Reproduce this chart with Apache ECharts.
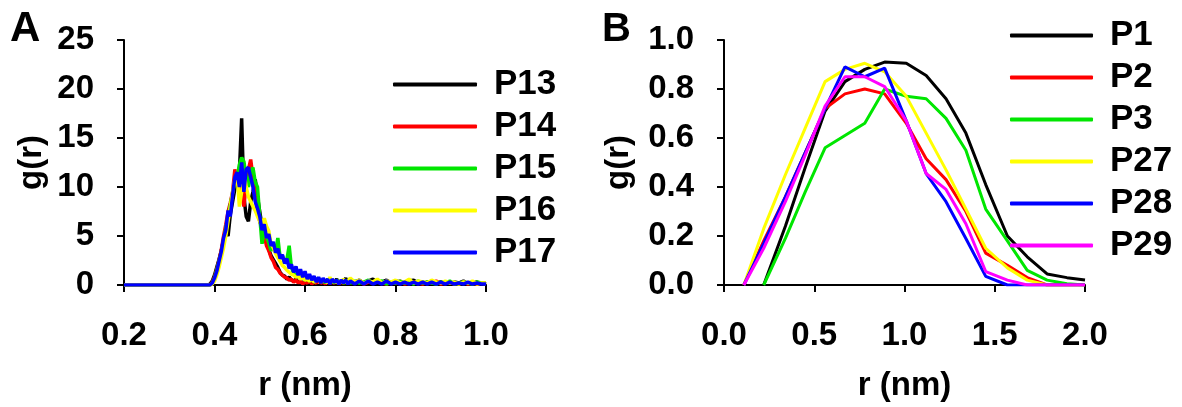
<!DOCTYPE html>
<html>
<head>
<meta charset="utf-8">
<script src="https://cdn.jsdelivr.net/npm/echarts@6/dist/echarts.min.js"></script>
<style>
html,body{margin:0;padding:0;background:#fff;}
#c{width:1182px;height:407px;}
</style>
</head>
<body>
<div id="c"></div>
<script>
// ---------- Panel A data ----------
const xA = [0.2,
  0.38,0.385,0.39,0.395,0.40,0.405,0.41,0.415,0.42,0.425,
  0.43,0.435,0.44,0.445,0.45,0.455,0.46,0.465,0.47,0.475,
  0.48,0.485,0.49,0.495,0.50,0.505,0.51,0.515,0.52,0.525,
  0.53,0.535,0.54,0.545,0.55,0.555,0.56,0.565,0.57,0.575,
  0.58,0.585,0.59,0.595,0.60,0.605,0.61,0.615,0.62,0.625,
  0.63,0.635,0.64,0.645,0.65,0.655,0.66,0.665,0.67,0.675,
  0.68,0.685,0.69,0.695,0.70,
  0.71,0.72,0.73,0.74,0.75,0.76,0.77,0.78,0.79,0.80,
  0.81,0.82,0.83,0.84,0.85,0.86,0.87,0.88,0.89,0.90,
  0.91,0.92,0.93,0.94,0.95,0.96,0.97,0.98,0.99,1.00];
const P13 = [0,
  0,0,0.1,0.4,1.0,1.8,2.6,3.5,4.6,5.6,
  5.0,7.2,8.5,9.8,10.8,11.5,17.0,9.0,7.0,6.5,
  8.5,9.5,10.8,9.0,7.5,6.0,5.0,4.6,3.6,3.0,
  2.6,2.2,1.8,1.3,1.0,0.9,0.6,0.8,0.5,0.4,
  0.6,0.3,0.4,0.2,0.3,0.5,0.2,0.4,0.6,0.3,
  0.5,0.2,0.4,0.3,0.5,0.2,0.4,0.3,0.6,0.2,
  0.4,0.3,0.7,0.2,0.4,
  0.3,0.5,0.2,0.4,0.6,0.2,0.3,0.5,0.2,0.4,
  0.3,0.2,0.4,0.5,0.2,0.3,0.1,0.4,0.2,0.3,
  0.2,0.1,0.3,0.2,0.4,0.1,0.2,0.3,0.1,0.2];
const P14 = [0,
  0,0,0,0.3,0.8,1.6,2.5,3.6,5.0,6.2,
  7.5,8.4,9.5,11.8,10.2,12.0,9.5,8.0,10.5,11.8,
  12.8,11.0,9.0,7.5,6.5,5.8,5.0,4.0,3.5,2.8,
  2.4,1.8,1.6,1.2,1.0,0.8,0.7,0.5,0.6,0.3,
  0.5,0.2,0.4,0.1,0.3,0.2,0.4,0.1,0.3,0.2,
  0.4,0.2,0.3,0.1,0.4,0.2,0.3,0.2,0.4,0.1,
  0.3,0.2,0.4,0.2,0.3,
  0.2,0.4,0.1,0.3,0.2,0.4,0.2,0.1,0.3,0.2,
  0.4,0.1,0.2,0.3,0.2,0.1,0.3,0.2,0.4,0.1,
  0.2,0.3,0.1,0.2,0.3,0.1,0.2,0.1,0.2,0.1];
const P15 = [0,
  0,0,0,0.2,0.7,1.5,2.4,3.3,4.5,5.8,
  7.0,8.2,9.4,10.5,11.0,12.3,13.0,12.6,11.0,10.0,
  11.5,12.0,10.5,10.0,7.0,4.2,5.6,5.0,4.3,3.5,
  4.0,3.4,4.8,2.8,3.0,2.2,2.6,4.0,1.8,1.2,
  0.9,1.0,0.7,0.8,0.5,0.7,0.4,0.6,0.3,0.5,
  0.7,0.3,0.5,0.2,0.6,0.3,0.4,0.2,0.5,0.3,
  0.4,0.2,0.3,0.5,0.2,
  0.4,0.2,0.3,0.5,0.2,0.3,0.4,0.1,0.3,0.2,
  0.4,0.2,0.3,0.1,0.4,0.2,0.3,0.2,0.1,0.3,
  0.2,0.4,0.1,0.2,0.3,0.2,0.1,0.3,0.2,0.1];
const P16 = [0,
  0,0,0,0.1,0.4,1.0,1.8,2.8,3.8,5.0,
  6.5,8.0,9.5,10.8,11.2,8.0,9.5,11.5,10.0,9.0,
  8.5,8.0,7.6,7.0,6.5,6.2,6.8,6.0,5.5,4.2,
  3.8,3.2,2.8,2.4,2.0,1.8,1.5,1.3,1.1,1.0,
  0.8,0.9,0.6,0.8,0.5,0.6,0.4,0.7,0.3,0.5,
  0.6,0.3,0.5,0.4,0.2,0.8,0.3,0.5,0.2,0.4,
  0.3,0.6,0.2,0.4,0.7,
  0.3,0.5,0.2,0.4,0.3,0.6,0.2,0.4,0.3,0.5,
  0.2,0.3,0.6,0.2,0.4,0.3,0.2,0.5,0.3,0.2,
  0.4,0.2,0.3,0.1,0.3,0.2,0.4,0.1,0.2,0.2];
const P17 = [0,
  0,0,0,0.2,0.7,1.4,2.4,3.4,4.8,5.6,
  7.6,7.0,9.2,11.0,11.5,10.0,12.5,9.5,11.8,12.0,
  11.0,10.0,8.5,7.8,7.0,5.6,6.2,4.8,5.2,4.0,
  4.4,3.3,3.7,2.7,3.1,2.2,2.7,1.7,2.1,1.3,
  1.9,1.0,1.6,0.8,1.4,0.6,1.1,0.5,0.9,0.3,
  0.8,0.2,0.7,0.3,0.6,0.1,0.6,0.3,0.5,0.1,
  0.5,0.2,0.5,0.1,0.4,
  0.1,0.4,0.1,0.4,0.1,0.3,0.1,0.4,0.1,0.3,
  0.1,0.3,0.1,0.3,0.1,0.3,0.1,0.3,0.1,0.3,
  0.1,0.3,0.1,0.2,0.1,0.3,0.1,0.2,0.1,0.1];

// ---------- Panel B data ----------
const xB = [0.11,0.22,0.34,0.45,0.56,0.67,0.78,0.89,1.01,1.12,1.23,1.34,1.45,1.57,1.68,1.79,1.90,2.0];
const P1  = [null,0,0.24,0.48,0.71,0.83,0.88,0.91,0.905,0.855,0.76,0.62,0.41,0.20,0.115,0.045,0.03,0.02];
const P2  = [0,0.18,0.36,0.54,0.72,0.78,0.80,0.78,0.66,0.515,0.43,0.30,0.13,0.08,0.03,0,0,0];
const P3  = [null,0,0.19,0.38,0.56,0.61,0.66,0.80,0.77,0.76,0.68,0.55,0.31,0.18,0.06,0.02,0.005,0];
const P27 = [0,0.23,0.45,0.64,0.83,0.88,0.905,0.87,0.77,0.62,0.47,0.31,0.15,0.07,0.02,0,0,0];
const P28 = [0,0.17,0.36,0.54,0.72,0.89,0.85,0.885,0.67,0.455,0.34,0.19,0.035,0,0,0,0,0];
const P29 = [0,0.15,0.34,0.53,0.73,0.85,0.85,0.81,0.67,0.455,0.39,0.25,0.055,0.02,0,0,0,0];

const namesA = ['P13','P14','P15','P16','P17'];
const namesB = ['P1','P2','P3','P27','P28','P29'];
const colorsA = ['#000000','#ff0000','#00e600','#ffff00','#0000ff'];
const colorsB = ['#000000','#ff0000','#00e600','#ffff00','#0000ff','#ff00ff'];
const yTicksA = [0,5,10,15,20,25];

const FONT = '"Liberation Sans", Arial, Helvetica, sans-serif';
const FS = 33;
const FSL = 35;

function pairs(xs, ys){ return xs.map((x,i)=>[x, ys[i]]); }

function axisCommon(){
  return {
    axisLine:{show:true, onZero:false, lineStyle:{color:'#000', width:2}},
    axisTick:{show:true, inside:false, length:7, lineStyle:{color:'#000', width:2}},
    splitLine:{show:false},
    axisLabel:{color:'#000', fontSize:FS, fontWeight:'bold', fontFamily:FONT, margin:30},
    nameTextStyle:{color:'#000', fontSize:FS, fontWeight:'bold', fontFamily:FONT}
  };
}
function xLabel(){ return Object.assign(axisCommon().axisLabel,{margin:34, formatter:v=>v.toFixed(1)}); }

const chart = echarts.init(document.getElementById('c'), null, {renderer:'canvas'});
const seriesA = [P13,P14,P15,P16,P17].map((d,i)=>({
  name:namesA[i], type:'line', xAxisIndex:0, yAxisIndex:0,
  data:pairs(xA,d), showSymbol:false, symbol:'none', animation:false,
  lineStyle:{width:3.5, color:colorsA[i]}, itemStyle:{color:colorsA[i]}
}));
const seriesB = [P1,P2,P3,P27,P28,P29].map((d,i)=>({
  name:namesB[i], type:'line', xAxisIndex:1, yAxisIndex:1,
  data:pairs(xB,d), showSymbol:false, symbol:'none', animation:false,
  lineStyle:{width:3, color:colorsB[i]}, itemStyle:{color:colorsB[i]}
}));

const option = {
  backgroundColor:'#fff',
  animation:false,
  grid:[
    {left:124, right:1182-486, top:40, bottom:407-292, containLabel:false},
    {left:724, right:1182-1085, top:40, bottom:407-292, containLabel:false}
  ],
  xAxis:[
    Object.assign(axisCommon(), {type:'value', gridIndex:0, min:0.2, max:1.0, interval:0.2,
      name:'r (nm)', nameLocation:'middle', nameGap:84, axisLabel:xLabel()}),
    Object.assign(axisCommon(), {type:'value', gridIndex:1, min:0, max:2.0, interval:0.5,
      name:'r (nm)', nameLocation:'middle', nameGap:84, axisLabel:xLabel()})
  ],
  yAxis:[
    Object.assign(axisCommon(), {type:'value', gridIndex:0, min:yTicksA[0], max:yTicksA[yTicksA.length-1], interval:5,
      name:'g(r)', nameLocation:'middle', nameGap:76, nameRotate:90}),
    Object.assign(axisCommon(), {type:'value', gridIndex:1, min:0, max:1.0, interval:0.2,
      name:'g(r)', nameLocation:'middle', nameGap:89, nameRotate:90,
      axisLabel:Object.assign(axisCommon().axisLabel,{formatter:v=>v.toFixed(1)})})
  ],
  legend:[
    {data:namesA, orient:'vertical', left:393, top:67, padding:0, itemGap:7,
     itemWidth:84, itemHeight:4, icon:'roundRect',
     textStyle:{color:'#000', fontSize:FSL, fontWeight:'bold', fontFamily:FONT, padding:[0,0,0,12]}},
    {data:namesB, orient:'vertical', left:1010, top:18, padding:0, itemGap:7,
     itemWidth:83, itemHeight:4, icon:'roundRect',
     textStyle:{color:'#000', fontSize:FSL, fontWeight:'bold', fontFamily:FONT, padding:[0,0,0,12]}}
  ],
  graphic:[
    {type:'text', left:10, top:8, style:{text:'A', fill:'#000', font:'bold 42px '+FONT}},
    {type:'text', left:602, top:10, style:{text:'B', fill:'#000', font:'bold 40px '+FONT}}
  ],
  series: seriesA.concat(seriesB)
};
chart.setOption(option);
</script>
</body>
</html>
